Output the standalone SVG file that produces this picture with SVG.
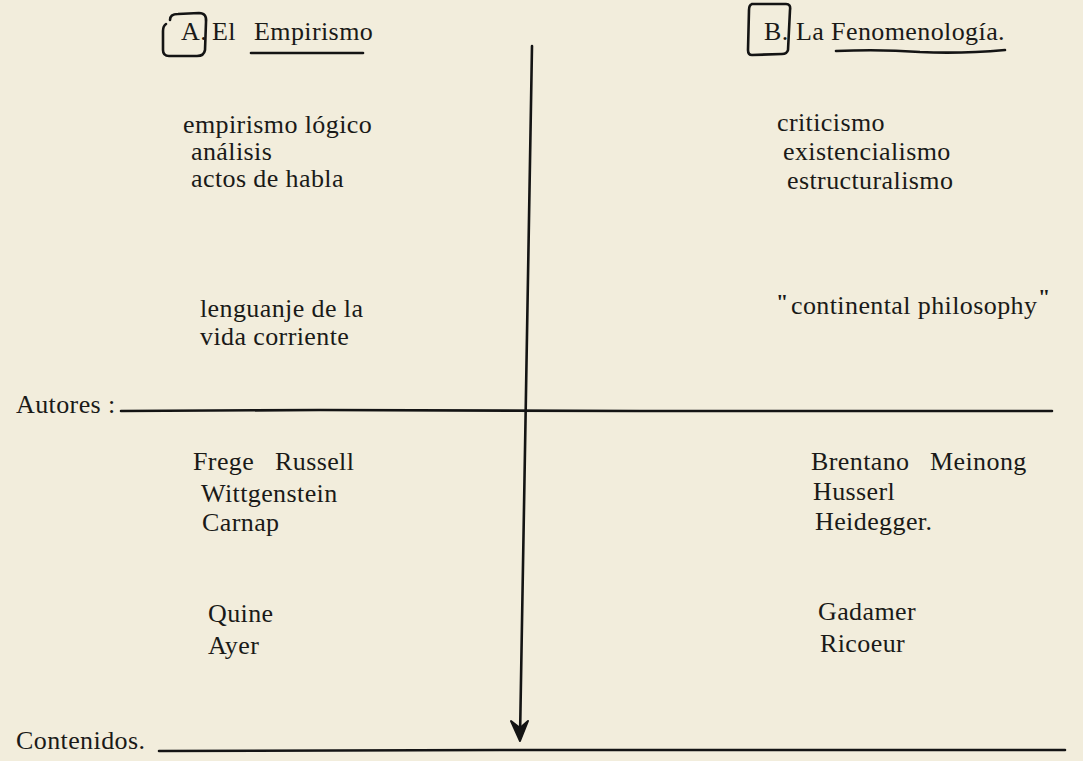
<svg xmlns="http://www.w3.org/2000/svg" width="1083" height="761" viewBox="0 0 1083 761">
<style>
text{font-family:"Liberation Serif","Times New Roman",serif;font-size:26px;letter-spacing:0.4px;fill:#1a1a18}
.ink{fill:none;stroke:#141414;stroke-width:2.6;stroke-linecap:round;stroke-linejoin:round}
.q{font-size:22px;font-weight:bold;letter-spacing:0}
</style>
<rect width="1083" height="761" fill="#f2eddc"/>
<g id="connectors">
<path class="ink" d="M532,46 L520,738"/>
<path d="M511,721 L520,741 L528,721 L520,728 Z" fill="#141414" stroke="#141414" stroke-width="2" stroke-linejoin="round"/>
<path class="ink" d="M121,411 L320,410 L640,411 L1052,411"/>
<path class="ink" d="M159,751 L500,750 L1065,750"/>
</g>
<g id="titleA">
<path class="ink" d="M170,20 Q170,14 178,14 L199,13 Q207,13 206,22 L205,50 Q204,56 197,56 L169,56 Q163,56 163,50 L163,31 Q163,26 166,24"/>
<text x="181" y="40">A.</text>
<text x="212" y="40">El</text>
<text x="254" y="40">Empirismo</text>
<path class="ink" d="M251,53 L363,53"/>
</g>
<g id="titleB">
<path class="ink" d="M752,4 L786,4 Q791,4 790,10 L788,50 Q787,54 782,54 L752,55 Q748,55 748,50 L749,10 Q749,5 752,4"/>
<text x="764" y="40">B.</text>
<text x="796" y="40">La Fenomenología.</text>
<path class="ink" d="M836,51 Q880,49 920,52 Q960,54 1005,50"/>
</g>
<g id="autoresLabel"><text x="16" y="413">Autores :</text></g>
<g id="contenidosLabel"><text x="16" y="749">Contenidos.</text></g>
<g id="empirismoCorrientes">
<text x="183" y="133">empirismo lógico</text>
<text x="191" y="160">análisis</text>
<text x="191" y="187">actos de habla</text>
</g>
<g id="empirismoLenguaje">
<text x="200" y="317">lenguanje de la</text>
<text x="200" y="345">vida corriente</text>
</g>
<g id="fenomenologiaCorrientes">
<text x="777" y="131">criticismo</text>
<text x="783" y="160">existencialismo</text>
<text x="787" y="189">estructuralismo</text>
</g>
<g id="continental">
<text class="q" x="776" y="309">"</text>
<text x="791" y="314">continental philosophy</text>
<text class="q" x="1038" y="304">"</text>
</g>
<g id="autoresEmpirismo1">
<text x="193" y="470">Frege</text>
<text x="275" y="470">Russell</text>
<text x="201" y="502">Wittgenstein</text>
<text x="202" y="531">Carnap</text>
</g>
<g id="autoresEmpirismo2">
<text x="208" y="622">Quine</text>
<text x="208" y="654">Ayer</text>
</g>
<g id="autoresFenomenologia1">
<text x="811" y="470">Brentano</text>
<text x="930" y="470">Meinong</text>
<text x="813" y="500">Husserl</text>
<text x="815" y="530">Heidegger.</text>
</g>
<g id="autoresFenomenologia2">
<text x="818" y="620">Gadamer</text>
<text x="820" y="652">Ricoeur</text>
</g>
</svg>
